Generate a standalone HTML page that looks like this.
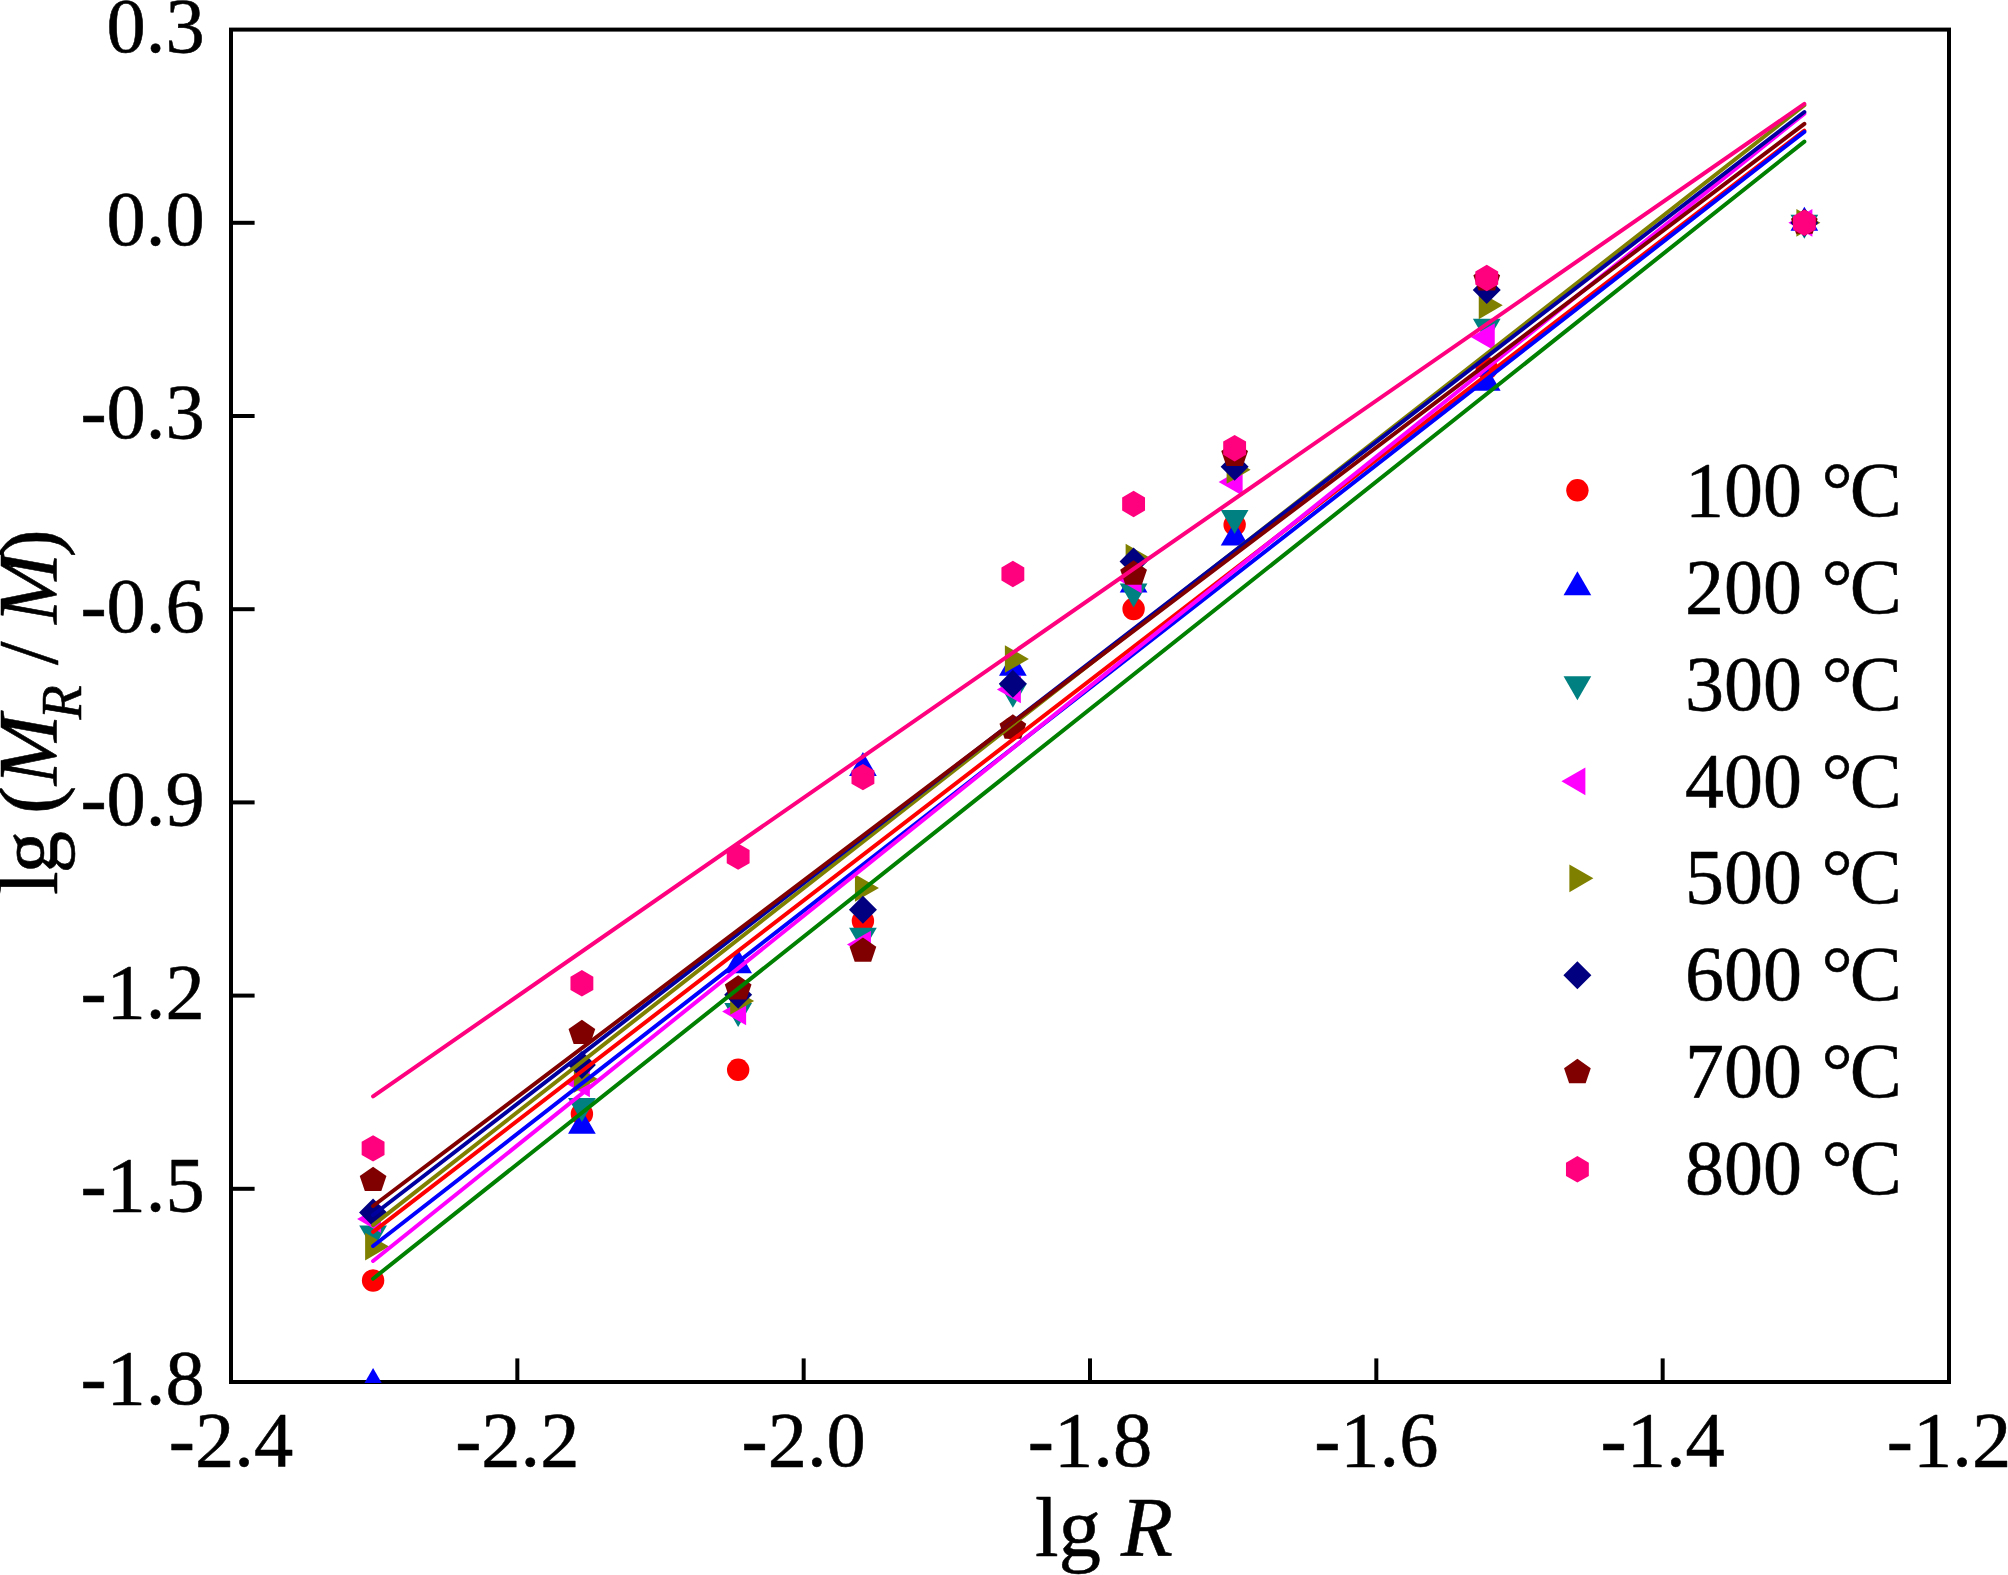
<!DOCTYPE html>
<html lang="en"><head><meta charset="utf-8"><title>lg (MR / M) versus lg R</title>
<style>
html,body{margin:0;padding:0;background:#fff;}
body{width:2008px;height:1575px;overflow:hidden;}
svg{display:block;}
text{font-family:"Liberation Serif","Times New Roman",serif;fill:#000;stroke:#000;stroke-width:0.55px;stroke-linejoin:round;}
.tk{font-size:78.5px;}
.ax{font-size:85px;}
.lg{font-size:78px;}
.it{font-style:italic;}
</style></head><body>
<svg width="2008" height="1575" viewBox="0 0 2008 1575">
<rect x="0" y="0" width="2008" height="1575" fill="#fff"/>
<defs><clipPath id="pc"><rect x="231" y="29.6" width="1718" height="1353.4"/></clipPath></defs>
<g fill="none" stroke="#000" stroke-width="4" stroke-linecap="butt">
<rect x="231" y="29.6" width="1718" height="1352.4"/>
<line x1="517.33" y1="1382" x2="517.33" y2="1358.4"/>
<line x1="803.67" y1="1382" x2="803.67" y2="1358.4"/>
<line x1="1090" y1="1382" x2="1090" y2="1358.4"/>
<line x1="1376.33" y1="1382" x2="1376.33" y2="1358.4"/>
<line x1="1662.67" y1="1382" x2="1662.67" y2="1358.4"/>
<line x1="231" y1="222.8" x2="254.6" y2="222.8"/>
<line x1="231" y1="416" x2="254.6" y2="416"/>
<line x1="231" y1="609.2" x2="254.6" y2="609.2"/>
<line x1="231" y1="802.4" x2="254.6" y2="802.4"/>
<line x1="231" y1="995.6" x2="254.6" y2="995.6"/>
<line x1="231" y1="1188.8" x2="254.6" y2="1188.8"/>
</g>
<g clip-path="url(#pc)">
<g>
<circle cx="373.09" cy="1280.5" r="11.2" fill="#ff0000"/>
<circle cx="581.9" cy="1113.9" r="11.2" fill="#ff0000"/>
<circle cx="738.16" cy="1069.8" r="11.2" fill="#ff0000"/>
<circle cx="862.93" cy="921" r="11.2" fill="#ff0000"/>
<circle cx="1012.87" cy="728.3" r="11.2" fill="#ff0000"/>
<circle cx="1133.59" cy="609" r="11.2" fill="#ff0000"/>
<circle cx="1234.64" cy="524.8" r="11.2" fill="#ff0000"/>
<circle cx="1486.75" cy="368.3" r="11.2" fill="#ff0000"/>
<circle cx="1804.36" cy="222.8" r="11.2" fill="#ff0000"/>
</g>
<g>
<polygon points="373.09,1368.01 386.94,1392 359.24,1392" fill="#0000ff"/>
<polygon points="581.9,1109.81 595.75,1133.8 568.05,1133.8" fill="#0000ff"/>
<polygon points="738.16,949.31 752.01,973.3 724.31,973.3" fill="#0000ff"/>
<polygon points="862.93,752.01 876.78,776 849.08,776" fill="#0000ff"/>
<polygon points="1012.87,651.81 1026.72,675.8 999.02,675.8" fill="#0000ff"/>
<polygon points="1133.59,568.51 1147.44,592.5 1119.74,592.5" fill="#0000ff"/>
<polygon points="1234.64,521.51 1248.49,545.5 1220.79,545.5" fill="#0000ff"/>
<polygon points="1486.75,366.71 1500.6,390.7 1472.9,390.7" fill="#0000ff"/>
<polygon points="1804.36,206.81 1818.21,230.8 1790.51,230.8" fill="#0000ff"/>
</g>
<g>
<polygon points="373.09,1249.59 386.94,1225.6 359.24,1225.6" fill="#008080"/>
<polygon points="581.9,1121.99 595.75,1098 568.05,1098" fill="#008080"/>
<polygon points="738.16,1026.99 752.01,1003 724.31,1003" fill="#008080"/>
<polygon points="862.93,951.79 876.78,927.8 849.08,927.8" fill="#008080"/>
<polygon points="1012.87,707.79 1026.72,683.8 999.02,683.8" fill="#008080"/>
<polygon points="1133.59,607.49 1147.44,583.5 1119.74,583.5" fill="#008080"/>
<polygon points="1234.64,533.99 1248.49,510 1220.79,510" fill="#008080"/>
<polygon points="1486.75,342.79 1500.6,318.8 1472.9,318.8" fill="#008080"/>
<polygon points="1804.36,238.79 1818.21,214.8 1790.51,214.8" fill="#008080"/>
</g>
<g>
<polygon points="357.1,1219.1 381.09,1205.25 381.09,1232.95" fill="#ff00ff"/>
<polygon points="565.91,1083.4 589.89,1069.55 589.89,1097.25" fill="#ff00ff"/>
<polygon points="722.16,1011.5 746.15,997.65 746.15,1025.35" fill="#ff00ff"/>
<polygon points="846.93,944.6 870.92,930.75 870.92,958.45" fill="#ff00ff"/>
<polygon points="996.88,689.4 1020.87,675.55 1020.87,703.25" fill="#ff00ff"/>
<polygon points="1117.6,579.5 1141.59,565.65 1141.59,593.35" fill="#ff00ff"/>
<polygon points="1218.65,481.9 1242.64,468.05 1242.64,495.75" fill="#ff00ff"/>
<polygon points="1470.75,337 1494.74,323.15 1494.74,350.85" fill="#ff00ff"/>
<polygon points="1788.37,222.8 1812.36,208.95 1812.36,236.65" fill="#ff00ff"/>
</g>
<g>
<polygon points="389.08,1246.6 365.1,1232.75 365.1,1260.45" fill="#808000"/>
<polygon points="597.89,1079 573.9,1065.15 573.9,1092.85" fill="#808000"/>
<polygon points="754.15,1001 730.16,987.15 730.16,1014.85" fill="#808000"/>
<polygon points="878.92,888 854.93,874.15 854.93,901.85" fill="#808000"/>
<polygon points="1028.87,659 1004.88,645.15 1004.88,672.85" fill="#808000"/>
<polygon points="1149.59,557.5 1125.6,543.65 1125.6,571.35" fill="#808000"/>
<polygon points="1250.63,469.8 1226.64,455.95 1226.64,483.65" fill="#808000"/>
<polygon points="1502.74,305.3 1478.75,291.45 1478.75,319.15" fill="#808000"/>
<polygon points="1820.35,222.8 1796.36,208.95 1796.36,236.65" fill="#808000"/>
</g>
<g>
<polygon points="373.09,1198.4 387.09,1212.4 373.09,1226.4 359.09,1212.4" fill="#000080"/>
<polygon points="581.9,1051 595.9,1065 581.9,1079 567.9,1065" fill="#000080"/>
<polygon points="738.16,980.7 752.16,994.7 738.16,1008.7 724.16,994.7" fill="#000080"/>
<polygon points="862.93,895.7 876.93,909.7 862.93,923.7 848.93,909.7" fill="#000080"/>
<polygon points="1012.87,669.8 1026.87,683.8 1012.87,697.8 998.87,683.8" fill="#000080"/>
<polygon points="1133.59,547.6 1147.59,561.6 1133.59,575.6 1119.59,561.6" fill="#000080"/>
<polygon points="1234.64,452.8 1248.64,466.8 1234.64,480.8 1220.64,466.8" fill="#000080"/>
<polygon points="1486.75,276 1500.75,290 1486.75,304 1472.75,290" fill="#000080"/>
<polygon points="1804.36,208.8 1818.36,222.8 1804.36,236.8 1790.36,222.8" fill="#000080"/>
</g>
<g>
<polygon points="373.09,1166.65 386.45,1175.94 381.35,1190.98 364.83,1190.98 359.73,1175.94" fill="#800000"/>
<polygon points="581.9,1019.65 595.26,1028.94 590.16,1043.98 573.64,1043.98 568.54,1028.94" fill="#800000"/>
<polygon points="738.16,975.15 751.52,984.44 746.42,999.48 729.9,999.48 724.79,984.44" fill="#800000"/>
<polygon points="862.93,937.45 876.29,946.74 871.19,961.78 854.67,961.78 849.56,946.74" fill="#800000"/>
<polygon points="1012.87,714.35 1026.24,723.64 1021.13,738.68 1004.61,738.68 999.51,723.64" fill="#800000"/>
<polygon points="1133.59,560.35 1146.96,569.64 1141.85,584.68 1125.33,584.68 1120.23,569.64" fill="#800000"/>
<polygon points="1234.64,441.65 1248,450.94 1242.9,465.98 1226.38,465.98 1221.28,450.94" fill="#800000"/>
<polygon points="1486.75,266.05 1500.11,275.34 1495,290.38 1478.49,290.38 1473.38,275.34" fill="#800000"/>
<polygon points="1804.36,209.35 1817.72,218.64 1812.62,233.68 1796.1,233.68 1791,218.64" fill="#800000"/>
</g>
<g>
<polygon points="373.09,1135.2 384.52,1141.8 384.52,1155 373.09,1161.6 361.66,1155 361.66,1141.8" fill="#ff007f"/>
<polygon points="581.9,970.1 593.33,976.7 593.33,989.9 581.9,996.5 570.47,989.9 570.47,976.7" fill="#ff007f"/>
<polygon points="738.16,843.4 749.59,850 749.59,863.2 738.16,869.8 726.73,863.2 726.73,850" fill="#ff007f"/>
<polygon points="862.93,763.9 874.36,770.5 874.36,783.7 862.93,790.3 851.5,783.7 851.5,770.5" fill="#ff007f"/>
<polygon points="1012.87,560.8 1024.3,567.4 1024.3,580.6 1012.87,587.2 1001.44,580.6 1001.44,567.4" fill="#ff007f"/>
<polygon points="1133.59,490.8 1145.02,497.4 1145.02,510.6 1133.59,517.2 1122.16,510.6 1122.16,497.4" fill="#ff007f"/>
<polygon points="1234.64,435 1246.07,441.6 1246.07,454.8 1234.64,461.4 1223.21,454.8 1223.21,441.6" fill="#ff007f"/>
<polygon points="1486.75,264.8 1498.18,271.4 1498.18,284.6 1486.75,291.2 1475.31,284.6 1475.31,271.4" fill="#ff007f"/>
<polygon points="1804.36,209.6 1815.79,216.2 1815.79,229.4 1804.36,236 1792.93,229.4 1792.93,216.2" fill="#ff007f"/>
</g>
<g fill="none" stroke-width="4" stroke-linecap="round">
<line x1="373.09" y1="1231.8" x2="1804.36" y2="130.6" stroke="#ff0000"/>
<line x1="373.09" y1="1246" x2="1804.36" y2="131.8" stroke="#0000ff"/>
<line x1="373.09" y1="1278.7" x2="1804.36" y2="141.6" stroke="#008000"/>
<line x1="373.09" y1="1261" x2="1804.36" y2="113.6" stroke="#ff00ff"/>
<line x1="373.09" y1="1225.1" x2="1804.36" y2="105.2" stroke="#808000"/>
<line x1="373.09" y1="1215" x2="1804.36" y2="112" stroke="#0000a0"/>
<line x1="373.09" y1="1206" x2="1804.36" y2="123.8" stroke="#800000"/>
<line x1="373.09" y1="1096.3" x2="1804.36" y2="103.8" stroke="#ff007f"/>
</g>
</g>
<g class="tk" text-anchor="end">
<text x="204.7" y="52">0.3</text>
<text x="204.7" y="245.2">0.0</text>
<text x="204.7" y="438.4">-0.3</text>
<text x="204.7" y="631.6">-0.6</text>
<text x="204.7" y="824.8">-0.9</text>
<text x="204.7" y="1018">-1.2</text>
<text x="204.7" y="1211.2">-1.5</text>
<text x="204.7" y="1404.4">-1.8</text>
</g>
<g class="tk" text-anchor="middle">
<text x="231" y="1466.2">-2.4</text>
<text x="517.33" y="1466.2">-2.2</text>
<text x="803.67" y="1466.2">-2.0</text>
<text x="1090" y="1466.2">-1.8</text>
<text x="1376.33" y="1466.2">-1.6</text>
<text x="1662.67" y="1466.2">-1.4</text>
<text x="1949" y="1466.2">-1.2</text>
</g>
<text class="ax" x="1035" y="1555.7">lg <tspan class="it" dx="-1.5">R</tspan></text>
<text class="ax" transform="translate(57,895) rotate(-90)"><tspan x="0 21.4">lg</tspan> <tspan x="80.9">(</tspan><tspan class="it" x="109.8">M</tspan><tspan class="it" font-size="56" x="175.5" dy="24">R</tspan><tspan x="208.7" dy="-24"> / </tspan><tspan class="it" x="271.3">M</tspan><tspan x="337.4">)</tspan></text>
<circle cx="1577.4" cy="490.3" r="11.2" fill="#ff0000"/>
<text class="lg" x="1685" y="516.2">100 °<tspan dx="-3">C</tspan></text>
<polygon points="1577.4,571.31 1591.25,595.3 1563.55,595.3" fill="#0000ff"/>
<text class="lg" x="1685" y="613">200 °<tspan dx="-3">C</tspan></text>
<polygon points="1577.4,700.29 1591.25,676.3 1563.55,676.3" fill="#008080"/>
<text class="lg" x="1685" y="709.8">300 °<tspan dx="-3">C</tspan></text>
<polygon points="1561.41,781.3 1585.4,767.45 1585.4,795.15" fill="#ff00ff"/>
<text class="lg" x="1685" y="806.6">400 °<tspan dx="-3">C</tspan></text>
<polygon points="1593.39,878.3 1569.4,864.45 1569.4,892.15" fill="#808000"/>
<text class="lg" x="1685" y="903.4">500 °<tspan dx="-3">C</tspan></text>
<polygon points="1577.4,961.3 1591.4,975.3 1577.4,989.3 1563.4,975.3" fill="#000080"/>
<text class="lg" x="1685" y="1000.2">600 °<tspan dx="-3">C</tspan></text>
<polygon points="1577.4,1058.85 1590.76,1068.14 1585.66,1083.18 1569.14,1083.18 1564.04,1068.14" fill="#800000"/>
<text class="lg" x="1685" y="1097">700 °<tspan dx="-3">C</tspan></text>
<polygon points="1577.4,1156.1 1588.83,1162.7 1588.83,1175.9 1577.4,1182.5 1565.97,1175.9 1565.97,1162.7" fill="#ff007f"/>
<text class="lg" x="1685" y="1193.8">800 °<tspan dx="-3">C</tspan></text>
</svg>
</body></html>
